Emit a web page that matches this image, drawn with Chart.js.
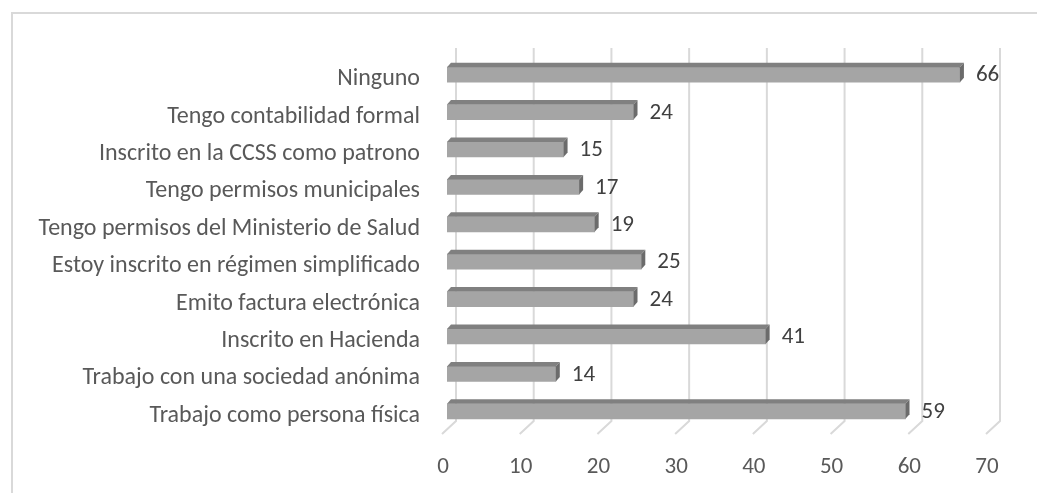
<!DOCTYPE html>
<html>
<head>
<meta charset="utf-8">
<script src="https://cdn.jsdelivr.net/npm/chart.js@4"></script>
<style>
    body { margin: 0; background: #fff; overflow: hidden; }
    #wrap { position: relative; width: 1037px; height: 493px; overflow: hidden; }
    #frame { position: absolute; left: 11px; top: 12px; width: 1100px; height: 600px; border: 2px solid #d9d9d9; box-sizing: border-box; }
    canvas { position: absolute; left: 0; top: 0; }
</style>
</head>
<body>
<div id="wrap">
    <div id="frame"></div>
    <canvas id="myChart" width="1037" height="493"></canvas>
</div>
<script>
    const categories = [
        'Ninguno',
        'Tengo contabilidad formal',
        'Inscrito en la CCSS como patrono',
        'Tengo permisos municipales',
        'Tengo permisos del Ministerio de Salud',
        'Estoy inscrito en régimen simplificado',
        'Emito factura electrónica',
        'Inscrito en Hacienda',
        'Trabajo con una sociedad anónima',
        'Trabajo como persona física'
    ];
    const values = [66, 24, 15, 17, 19, 25, 24, 41, 14, 59];
    const xMin = 0;
    const xMax = 70;
    const xStep = 10;

    const fontFamily = 'Carlito, Lato, sans-serif';
    const fontSize = 23;
    const depthX = 4;
    const depthY = 4.5;

    // gridlines sit on the back wall, with a slanted floor edge
    const grid3d = {
        id: 'grid3d',
        beforeDatasetsDraw(chart) {
            const ctx = chart.ctx;
            const xs = chart.scales.x;
            const area = chart.chartArea;
            ctx.save();
            ctx.strokeStyle = '#d9d9d9';
            ctx.lineWidth = 2;
            for (const t of xs.ticks) {
                const px = xs.getPixelForValue(t.value);
                ctx.beginPath();
                ctx.moveTo(px + 9, area.top - 8);
                ctx.lineTo(px + 9, area.bottom - 9);
                ctx.lineTo(px - 5, area.bottom + 4);
                ctx.stroke();
            }
            ctx.restore();
        }
    };

    // top and side faces of each bar + value labels
    const bar3d = {
        id: 'bar3d',
        afterDatasetsDraw(chart) {
            const ctx = chart.ctx;
            const meta = chart.getDatasetMeta(0);
            ctx.save();
            meta.data.forEach(function (bar, i) {
                const top = bar.y - bar.height / 2;
                const bottom = bar.y + bar.height / 2;
                const left = bar.base;
                const right = bar.x;
                ctx.fillStyle = '#808080';
                ctx.beginPath();
                ctx.moveTo(left, top);
                ctx.lineTo(left + depthX, top - depthY);
                ctx.lineTo(right + depthX, top - depthY);
                ctx.lineTo(right, top);
                ctx.closePath();
                ctx.fill();
                ctx.fillStyle = '#6b6b6b';
                ctx.beginPath();
                ctx.moveTo(right, top);
                ctx.lineTo(right + depthX, top - depthY);
                ctx.lineTo(right + depthX, bottom - depthY);
                ctx.lineTo(right, bottom);
                ctx.closePath();
                ctx.fill();
                ctx.fillStyle = '#404040';
                ctx.font = fontSize + 'px ' + fontFamily;
                ctx.textAlign = 'left';
                ctx.textBaseline = 'middle';
                ctx.fillText(String(values[i]), right + depthX + 12, bar.y + 1);
            });
            ctx.restore();
        }
    };

    const ctx = document.getElementById('myChart');
    new Chart(ctx, {
        type: 'bar',
        data: {
            labels: categories,
            datasets: [{
                data: values,
                backgroundColor: '#a5a5a5',
                borderWidth: 0,
                barThickness: 15
            }]
        },
        options: {
            indexAxis: 'y',
            responsive: false,
            animation: false,
            devicePixelRatio: 1,
            layout: {
                padding: { top: 56, right: 46, bottom: 0, left: 0 }
            },
            plugins: {
                legend: { display: false },
                tooltip: { enabled: false }
            },
            scales: {
                x: {
                    min: xMin,
                    max: xMax,
                    grid: { display: false },
                    border: { display: false },
                    ticks: {
                        stepSize: xStep,
                        color: '#595959',
                        font: { family: fontFamily, size: fontSize },
                        padding: 15,
                        labelOffset: -4,
                        maxRotation: 0
                    },
                    afterFit: function (scale) {
                        scale.height = 63;
                    }
                },
                y: {
                    grid: { display: false },
                    border: { display: false },
                    ticks: {
                        color: '#595959',
                        font: { family: fontFamily, size: 24 },
                        padding: 19,
                        labelOffset: 4.5
                    },
                    afterFit: function (scale) {
                        scale.width = 447;
                    }
                }
            }
        },
        plugins: [grid3d, bar3d]
    });
</script>
</body>
</html>
